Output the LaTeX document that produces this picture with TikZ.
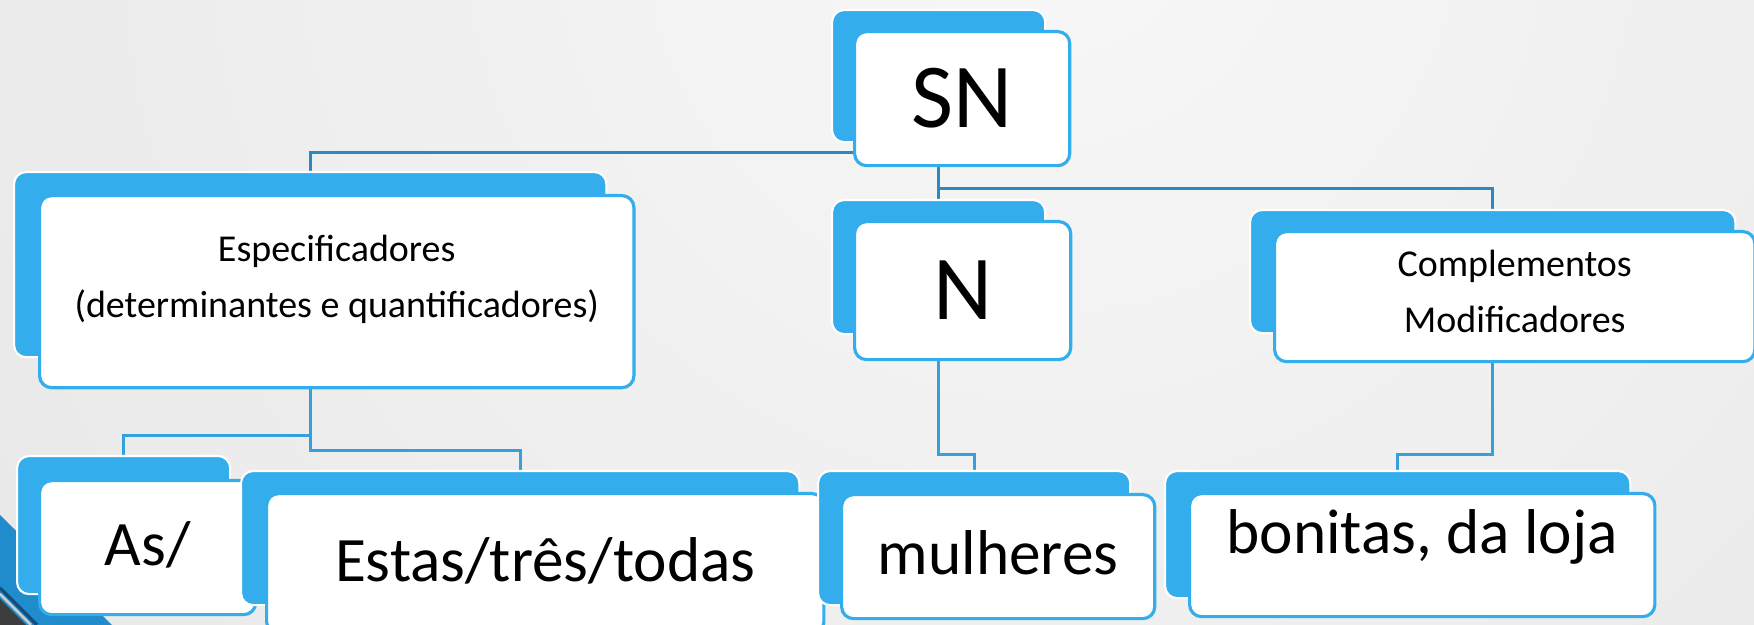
\documentclass[tikz,border=0pt]{standalone}
\usepackage{fontspec}
\setmainfont{Carlito}
\usepackage{xcolor}
\usetikzlibrary{positioning, backgrounds}

\definecolor{skyblue}{RGB}{51,173,235}
\definecolor{linkblue}{RGB}{52,160,220}
\definecolor{linkdark}{RGB}{42,138,192}
\definecolor{stripeblue}{RGB}{32,140,204}
\definecolor{stripenavy}{RGB}{16,80,128}
\definecolor{stripegray}{RGB}{60,60,60}

\pgfdeclarelayer{backdrop}
\pgfsetlayers{backdrop,background,main}

\begin{document}
\begin{tikzpicture}[
    x=0.01cm, y=-0.01cm,
    backbox/.style={draw=white, line width=0.6pt, fill=skyblue, rounded corners=0.12cm, anchor=north west, inner sep=0pt},
    frontbox/.style={draw=skyblue, line width=0.9pt, fill=white, rounded corners=0.12cm, anchor=north west, align=center, inner sep=0pt},
    bigtext/.style={font=\fontsize{26}{30}\selectfont},
    midtext/.style={font=\fontsize{18}{22}\selectfont, text height=0.42cm, text depth=0.06cm},
    smalltext/.style={font=\fontsize{10.8}{16}\selectfont},
    link/.style={draw=linkblue, line width=0.85pt}
]
    \useasboundingbox (0,0) rectangle (1754,625);

    % slide backdrop
    \begin{pgfonlayer}{backdrop}
    \begin{scope}
        \clip (0,0) rectangle (1754,625);
        \fill[white!86!black] (0,0) rectangle (1754,625);
        \shade[inner color=white!97!black, outer color=white!86!black] (1050,-100) circle (2400);
        \fill[stripeblue] (0,515) -- (112,625) -- (0,625) -- cycle;
        \draw[stripenavy, line width=1pt] (0,588) -- (37,625);
        \draw[white!80!black, line width=0.8pt] (0,594) -- (31,625);
        \fill[stripegray] (0,599) -- (26,625) -- (0,625) -- cycle;
    \end{scope}
    \end{pgfonlayer}

    % top
    \node[backbox, minimum width=2.13cm, minimum height=1.32cm] (snB) at (831,9) {};
    \node[frontbox, bigtext, minimum width=2.15cm, minimum height=1.34cm] (snF) at (853,30) {SN};

    % middle row
    \node[backbox, minimum width=5.92cm, minimum height=1.85cm] (espB) at (13,171) {};
    \node[frontbox, smalltext, minimum width=5.94cm, minimum height=1.92cm] (espF) at (38,194) {Especificadores\\(determinantes e quantificadores)\rule[-0.31cm]{0pt}{0.1pt}};
    \node[backbox, minimum width=2.13cm, minimum height=1.34cm] (nB) at (831,199) {};
    \node[frontbox, bigtext, minimum width=2.16cm, minimum height=1.38cm] (nF) at (853,220) {N};
    \node[backbox, minimum width=4.85cm, minimum height=1.23cm] (compB) at (1249,209) {};
    \node[frontbox, smalltext, minimum width=4.80cm, minimum height=1.30cm] (compF) at (1273,230) {Complementos\\Modificadores\rule[-0.1cm]{0pt}{0.1pt}};

    % bottom row
    \node[backbox, minimum width=2.13cm, minimum height=1.38cm] (asB) at (16,455) {};
    \node[frontbox, midtext, minimum width=2.16cm, minimum height=1.34cm] (asF) at (38,479) {As/};
    \node[backbox, minimum width=5.58cm, minimum height=1.34cm] (estasB) at (240,470) {};
    \node[frontbox, midtext, minimum width=5.57cm, minimum height=1.40cm] (estasF) at (265,492) {Estas/três/todas};
    \node[backbox, minimum width=3.12cm, minimum height=1.34cm] (mulB) at (817,470) {};
    \node[frontbox, midtext, minimum width=3.13cm, minimum height=1.24cm] (mulF) at (840,493) {mulheres};
    \node[backbox, minimum width=4.65cm, minimum height=1.27cm] (bonB) at (1164,470) {};
    \node[frontbox, midtext, text depth=0.45cm, minimum width=4.65cm, minimum height=1.23cm] (bonF) at (1188,492) {bonitas, da loja};

    % connectors
    \begin{scope}[on background layer]
        \draw[link, draw=linkdark] ([yshift=0.15cm]snF.south west) -| (espB.north);
        \draw[link, draw=linkdark] (snF.south -| nB.north) -- (nB.north);
        \draw[link, draw=linkdark] (snF.south -| nB.north) -- ++(0,21) -| (compB.north);
        \draw[link] (espF.south -| espB.north) -- ++(0,46) -| (asB.north);
        \draw[link] (espF.south -| espB.north) -- ++(0,61) -| (estasB.north);
        \draw[link] (nF.south -| nB.north) -- ++(0,93) -| (mulB.north);
        \draw[link] (compF.south -| compB.north) -- ++(0,91) -| (bonB.north);
    \end{scope}
\end{tikzpicture}
\end{document}
